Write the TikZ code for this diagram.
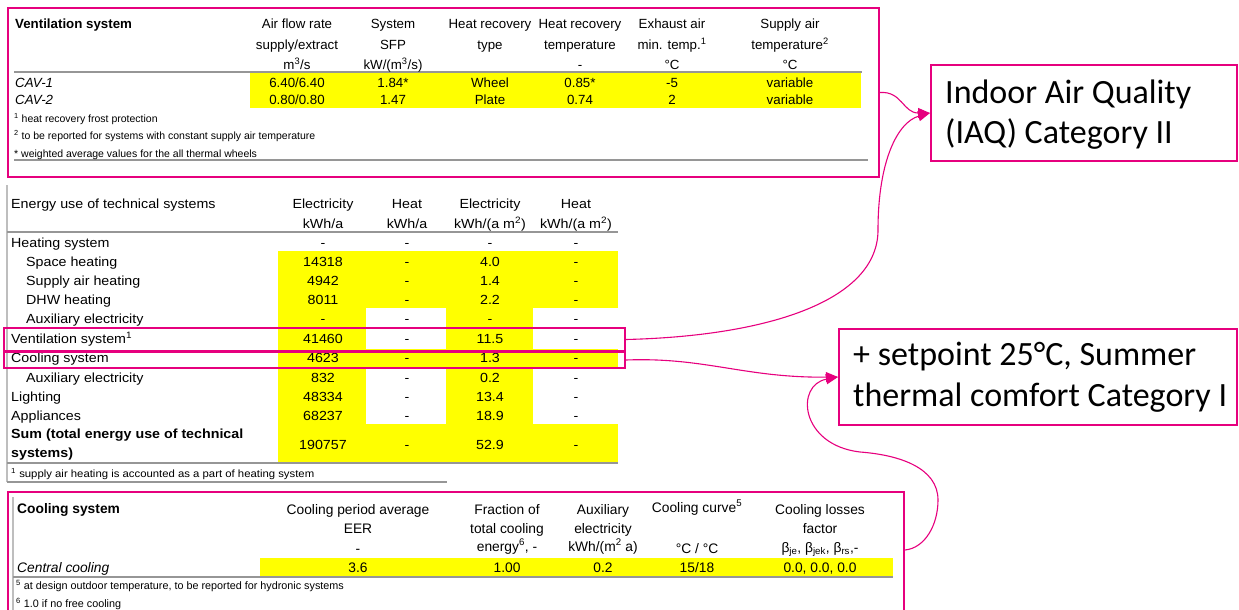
\documentclass[tikz,border=0pt]{standalone}
\usepackage{fontspec}
\setmainfont{Liberation Sans}
\newfontfamily\midfam{Liberation Sans}[FakeStretch=1.08]
\newfontfamily\callfam{Carlito}
\usetikzlibrary{arrows.meta}
\definecolor{mag}{RGB}{230,0,126}
\definecolor{hl}{RGB}{255,255,0}
\definecolor{gline}{RGB}{150,150,150}
\definecolor{vline}{RGB}{190,190,190}
\begin{document}
\begin{tikzpicture}[x=1pt,y=-1pt,
  tt/.style={inner sep=0pt, anchor=base, font=\fontsize{13.3}{16}\selectfont},
  ttl/.style={tt, anchor=base west},
  mt/.style={inner sep=0pt, anchor=base, font=\midfam\fontsize{13.2}{16}\selectfont},
  mtl/.style={mt, anchor=base west},
  bt/.style={inner sep=0pt, anchor=base, font=\fontsize{13.8}{16}\selectfont},
  btl/.style={bt, anchor=base west},
  fnote/.style={inner sep=0pt, anchor=base west, font=\fontsize{10.5}{12}\selectfont},
  mfnote/.style={inner sep=0pt, anchor=base west, font=\midfam\fontsize{10.5}{12}\selectfont},
  grule/.style={draw=gline, line width=2pt},
  vrule/.style={draw=vline, line width=1.5pt},
  magbox/.style={draw=mag, line width=2pt, inner sep=0pt, anchor=north west},
  calltext/.style={inner sep=0pt, anchor=base west, font=\callfam\fontsize{34}{41}\selectfont},
  link/.style={draw=mag, line width=1.1pt, -{Triangle[length=12pt,width=10pt]}},
]
\useasboundingbox (0,0) rectangle (1239,610);

%% ---------------- top table: ventilation system ----------------
\fill[hl] (250,73) rectangle (861,108);
\draw[grule] (14,72) -- (862,72);
\draw[grule] (14,160) -- (868,160);
\node[magbox, minimum width=871pt, minimum height=169pt] (topbox) at (7,7) {};

\node[ttl, font=\bfseries\fontsize{13.3}{16}\selectfont] (vsh) at (15,29) {Ventilation system};
\node[tt] (h1a) at (297,29) {Air flow rate};
\node[tt] (h1b) at (297,50) {supply/extract};
\node[tt] (h1c) at (297,70) {m\textsuperscript{3}/s};
\node[tt] (h2a) at (393,29) {System};
\node[tt] (h2b) at (393,50) {SFP};
\node[tt] (h2c) at (393,70) {kW/(m\textsuperscript{3}/s)};
\node[tt] (h3a) at (490,29) {Heat recovery};
\node[tt] (h3b) at (490,50) {type};
\node[tt] (h4a) at (580,29) {Heat recovery};
\node[tt] (h4b) at (580,50) {temperature};
\node[tt] (h4c) at (580,70) {-};
\node[tt] (h5a) at (672,29) {Exhaust air};
\node[tt] (h5b) at (672,50) {min. temp.\textsuperscript{1}};
\node[tt] (h5c) at (672,70) {°C};
\node[tt] (h6a) at (790,29) {Supply air};
\node[tt] (h6b) at (790,50) {temperature\textsuperscript{2}};
\node[tt] (h6c) at (790,70) {°C};

\node[ttl, font=\itshape\fontsize{13.3}{16}\selectfont] (cav1) at (15,87) {CAV-1};
\node[tt] (c1a) at (297,87) {6.40/6.40};
\node[tt] (c1b) at (393,87) {1.84*};
\node[tt] (c1c) at (490,87) {Wheel};
\node[tt] (c1d) at (580,87) {0.85*};
\node[tt] (c1e) at (672,87) {-5};
\node[tt] (c1f) at (790,87) {variable};
\node[ttl, font=\itshape\fontsize{13.3}{16}\selectfont] (cav2) at (15,104) {CAV-2};
\node[tt] (c2a) at (297,104) {0.80/0.80};
\node[tt] (c2b) at (393,104) {1.47};
\node[tt] (c2c) at (490,104) {Plate};
\node[tt] (c2d) at (580,104) {0.74};
\node[tt] (c2e) at (672,104) {2};
\node[tt] (c2f) at (790,104) {variable};

\node[fnote] (tf1) at (14,122) {\textsuperscript{1} heat recovery frost protection};
\node[fnote] (tf2) at (14,139) {\textsuperscript{2} to be reported for systems with constant supply air temperature};
\node[fnote] (tf3) at (14,157) {* weighted average values for the all thermal wheels};

%% ---------------- middle table: energy use ----------------
\fill[hl] (278,251) rectangle (366,463);
\fill[hl] (446,251) rectangle (533,463);
\fill[hl] (278,251) rectangle (618,308);
\fill[hl] (278,349) rectangle (618,367);
\fill[hl] (278,424) rectangle (618,463);
\draw[vrule] (7,185) -- (7,482);
\draw[grule] (7,232) -- (618,232);
\draw[grule] (7,463) -- (618,463);
\draw[grule] (7,482) -- (447,482);

\node[mtl] (eh) at (11,208) {Energy use of technical systems};
\node[mt] (m1a) at (323,208) {Electricity};
\node[mt] (m1b) at (323,228) {kWh/a};
\node[mt] (m2a) at (407,208) {Heat};
\node[mt] (m2b) at (407,228) {kWh/a};
\node[mt] (m3a) at (490,208) {Electricity};
\node[mt] (m3b) at (490,228) {kWh/(a m\textsuperscript{2})};
\node[mt] (m4a) at (576,208) {Heat};
\node[mt] (m4b) at (576,228) {kWh/(a m\textsuperscript{2})};

\foreach \lab/\ind/\yy/\va/\vb/\vc/\vd [count=\i] in {
  {Heating system}/11/247/-/-/-/-,
  {Space heating}/26/266/14318/-/4.0/-,
  {Supply air heating}/26/285/4942/-/1.4/-,
  {DHW heating}/26/304/8011/-/2.2/-,
  {Auxiliary electricity}/26/323/-/-/-/-,
  {Ventilation system\textsuperscript{1}}/11/343/41460/-/11.5/-,
  {Cooling system}/11/362/4623/-/1.3/-,
  {Auxiliary electricity}/26/382/832/-/0.2/-,
  {Lighting}/11/401/48334/-/13.4/-,
  {Appliances}/11/420/68237/-/18.9/-}{
  \node[mtl] (rl\i) at (\ind,\yy) {\lab};
  \node[mt] (ra\i) at (323,\yy) {\va};
  \node[mt] (rb\i) at (407,\yy) {\vb};
  \node[mt] (rc\i) at (490,\yy) {\vc};
  \node[mt] (rd\i) at (576,\yy) {\vd};
}
\node[mtl, font=\midfam\bfseries\fontsize{13.2}{16}\selectfont] (sum1) at (11,438) {Sum (total energy use of technical};
\node[mtl, font=\midfam\bfseries\fontsize{13.2}{16}\selectfont] (sum2) at (11,457) {systems)};
\node[mt] (sa) at (323,449) {190757};
\node[mt] (sb) at (407,449) {-};
\node[mt] (sc) at (490,449) {52.9};
\node[mt] (sd) at (576,449) {-};
\node[mfnote] (mf1) at (11,477) {\textsuperscript{1} supply air heating is accounted as a part of heating system};

\node[magbox, minimum width=621pt, minimum height=23pt] (ventbox) at (3,327) {};
\node[magbox, minimum width=621pt, minimum height=16pt] (coolbox) at (3,351) {};

%% ---------------- bottom table: cooling system ----------------
\fill[hl] (260,558) rectangle (893,576);
\draw[vrule] (13,497) -- (13,615);
\draw[grule] (13,577) -- (893,577);
\node[magbox, minimum width=896pt, minimum height=124pt] (botbox) at (7,491) {};

\node[btl, font=\bfseries\fontsize{13.8}{16}\selectfont] (csh) at (17,513) {Cooling system};
\node[bt] (b1a) at (358,514) {Cooling period average};
\node[bt] (b1b) at (358,533) {EER};
\node[bt] (b1c) at (358,553) {-};
\node[bt] (b2a) at (507,514) {Fraction of};
\node[bt] (b2b) at (507,533) {total cooling};
\node[bt] (b2c) at (507,551) {energy\textsuperscript{6}, -};
\node[bt] (b3a) at (603,514) {Auxiliary};
\node[bt] (b3b) at (603,533) {electricity};
\node[bt] (b3c) at (603,551) {kWh/(m\textsuperscript{2} a)};
\node[bt] (b4a) at (697,512) {Cooling curve\textsuperscript{5}};
\node[bt] (b4c) at (697,553) {°C / °C};
\node[bt] (b5a) at (820,514) {Cooling losses};
\node[bt] (b5b) at (820,533) {factor};
\node[bt] (b5c) at (820,552) {β\textsubscript{je}, β\textsubscript{jek}, β\textsubscript{rs},-};

\node[btl, font=\itshape\fontsize{13.8}{16}\selectfont] (ccl) at (17,572) {Central cooling};
\node[bt] (v1) at (358,572) {3.6};
\node[bt] (v2) at (507,572) {1.00};
\node[bt] (v3) at (603,572) {0.2};
\node[bt] (v4) at (697,572) {15/18};
\node[bt] (v5) at (820,572) {0.0, 0.0, 0.0};

\node[fnote, font=\fontsize{10.8}{12}\selectfont] (bf1) at (16,589) {\textsuperscript{5} at design outdoor temperature, to be reported for hydronic systems};
\node[fnote, font=\fontsize{10.8}{12}\selectfont] (bf2) at (16,607) {\textsuperscript{6} 1.0 if no free cooling};

%% ---------------- callouts ----------------
\node[magbox, minimum width=306pt, minimum height=96pt] (iaq) at (930,64) {};
\node[calltext] (iaqt1) at (945,103) {Indoor Air Quality};
\node[calltext] (iaqt2) at (945,143) {(IAQ) Category II};

\node[magbox, minimum width=398pt, minimum height=96pt] (setp) at (838,328) {};
\node[calltext] (spt1) at (853,365) {+ setpoint 25°C, Summer};
\node[calltext] (spt2) at (853,406) {thermal comfort Category I};

%% ---------------- connectors ----------------
\coordinate (via1) at (878,230);
\coordinate (via2) at (938,500);
\coordinate (via3) at (860,452);
\draw[link] (topbox.east) .. controls (902,91) and (903,113) .. (iaq.west);
\draw[link] (ventbox.east) .. controls (770,336) and (878,300) .. (via1)
  .. controls (878,160) and (898,122) .. (iaq.west);
\draw[link] (coolbox.east) .. controls (705,357) and (745,378) .. (setp.west);
\draw[link] ([yshift=-59pt]botbox.north east) .. controls (925,548) and (938,525) .. (via2)
  .. controls (938,468) and (900,455) .. (via3)
  .. controls (800,445) and (795,385) .. (setp.west);
\end{tikzpicture}
\end{document}
